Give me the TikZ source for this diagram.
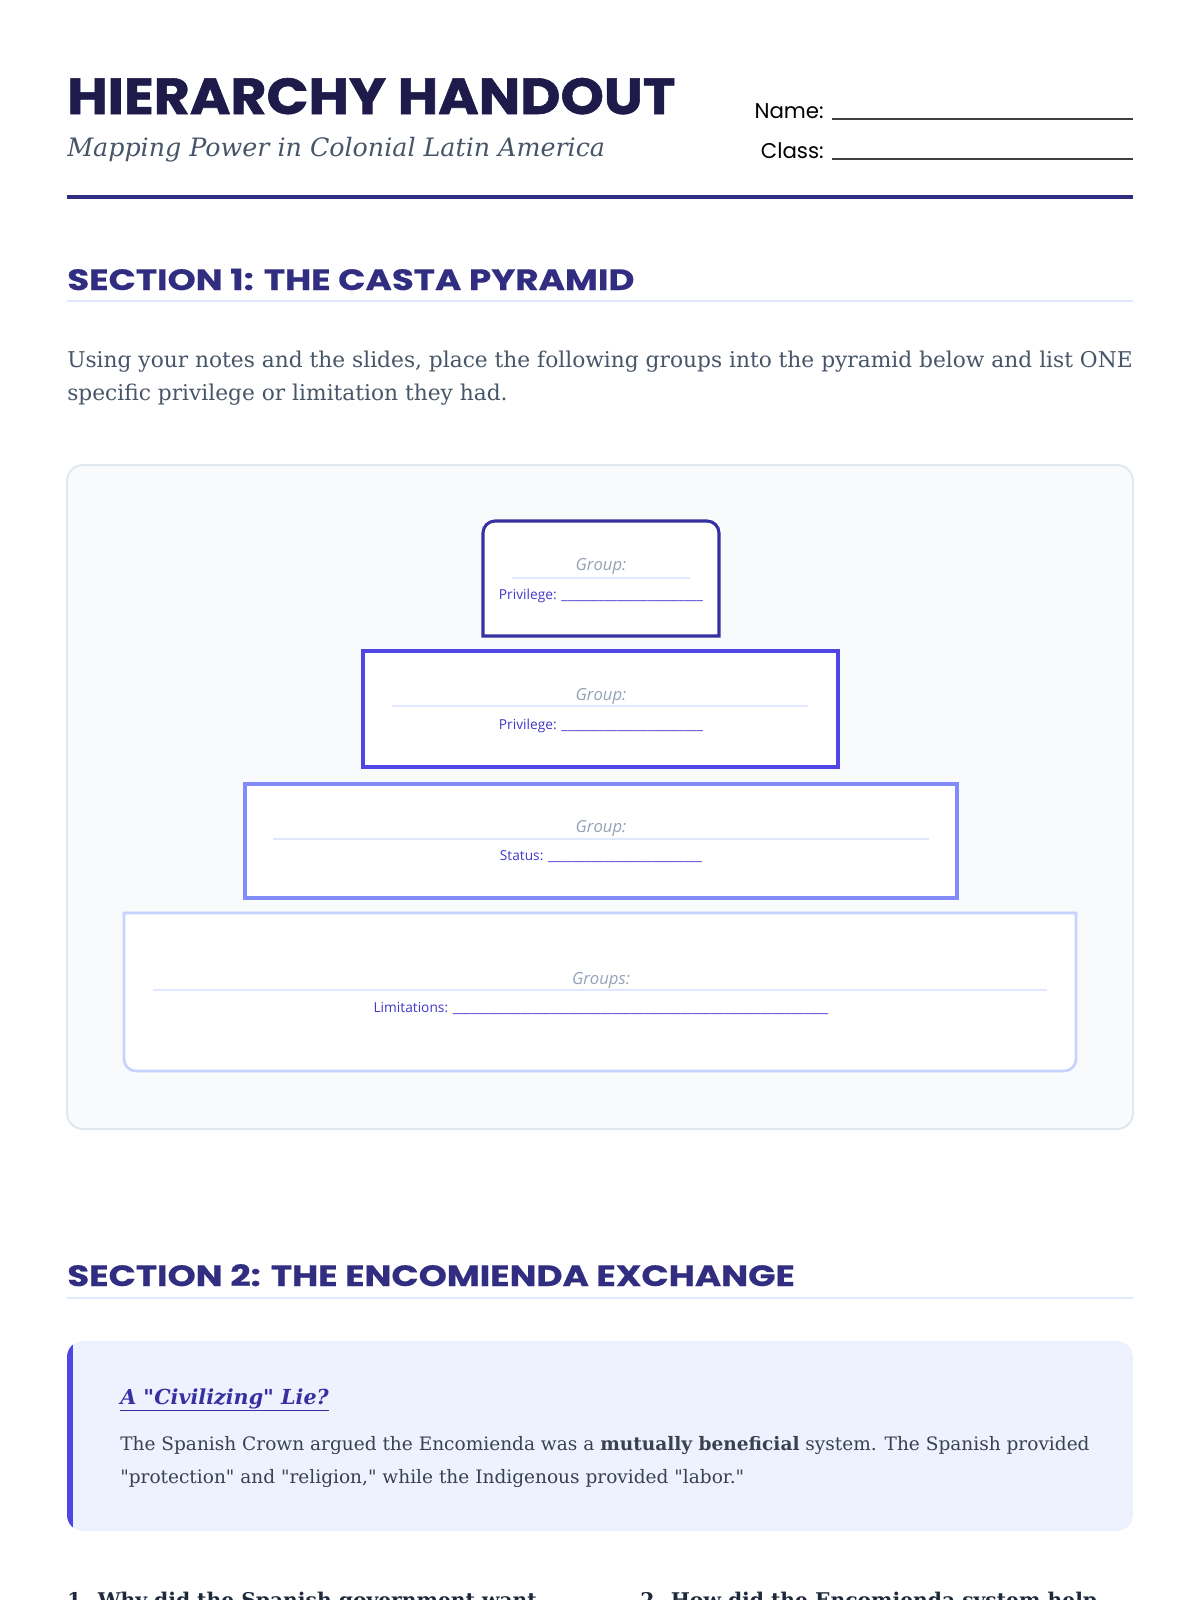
\documentclass[tikz,border=0pt]{standalone}
\usepackage{fontspec}
\setmainfont{DejaVu Serif}
\newfontfamily\headfont{Poppins}
\newfontfamily\titlefont{Poppins}[FakeStretch=1.09, BoldFeatures={FakeBold=1.2}]
\newfontfamily\secfont{Poppins}[FakeStretch=1.22, BoldFeatures={FakeBold=0.5}]
\newfontfamily\labelfont{Open Sans}
\usetikzlibrary{positioning}

\definecolor{inkNavy}{HTML}{1E1B4B}
\definecolor{secIndigo}{HTML}{312E81}
\definecolor{ruleLight}{HTML}{E0E7FF}
\definecolor{slateText}{HTML}{475569}
\definecolor{panelFill}{HTML}{F8FAFC}
\definecolor{panelLine}{HTML}{E2E8F0}
\definecolor{tierA}{HTML}{3730A3}
\definecolor{tierB}{HTML}{4F46E5}
\definecolor{tierC}{HTML}{818CF8}
\definecolor{tierD}{HTML}{C7D2FE}
\definecolor{lblIndigo}{HTML}{4338CA}
\definecolor{hintGray}{HTML}{94A3B8}
\definecolor{calloutFill}{HTML}{EEF2FF}
\definecolor{bodyGray}{HTML}{374151}
\definecolor{qDark}{HTML}{1E293B}

\newcommand\blanks[1]{\foreach\k in {1,...,#1}{\_}}
\newcommand\dq{\textquotedbl}

\tikzset{
  txt/.style={anchor=base west, inner sep=0pt},
  sechead/.style={txt, text=secIndigo, font=\secfont\bfseries\fontsize{22pt}{26pt}\selectfont},
  secrule/.style={ruleLight, line width=2.2pt},
  para/.style={txt, text=slateText, font=\fontsize{16.3pt}{20pt}\selectfont},
  grouptxt/.style={anchor=base, inner sep=0pt, text=hintGray, font=\labelfont\itshape\fontsize{12.5pt}{14pt}\selectfont},
  grouprule/.style={ruleLight, line width=1.1pt},
  filltxt/.style={anchor=base, inner sep=0pt, text=lblIndigo, font=\labelfont\fontsize{10.3pt}{12pt}\selectfont},
  body/.style={txt, text=bodyGray, font=\fontsize{13.9pt}{18pt}\selectfont},
  question/.style={txt, text=qDark, font=\bfseries\fontsize{15.2pt}{18pt}\selectfont},
}

\begin{document}
\begin{tikzpicture}[x=0.75pt, y=-0.75pt]
\useasboundingbox (0,0) rectangle (1200,1600);
\clip (0,0) rectangle (1200,1600);
\fill[white] (0,0) rectangle (1200,1600);

% header
\node[txt, text=inkNavy, font=\titlefont\bfseries\fontsize{38pt}{44pt}\selectfont] (title) at (67,114) {HIERARCHY HANDOUT};
\node[txt, text=slateText, font=\itshape\fontsize{19pt}{22pt}\selectfont] (subtitle) at (67,156) {Mapping Power in Colonial Latin America};
\node[anchor=base east, inner sep=0pt, font=\headfont\fontsize{16pt}{18pt}\selectfont] (name) at (824,118) {Name:};
\node[anchor=base east, inner sep=0pt, font=\headfont\fontsize{16pt}{18pt}\selectfont] (class) at (824,158) {Class:};
\coordinate (nameend) at (1133,119);
\coordinate (classend) at (1133,159);
\draw[black!75, line width=0.9pt] ([xshift=6pt,yshift=-0.8pt]name.base east) -- ([yshift=-0.8pt]name.base east -| nameend);
\draw[black!75, line width=0.9pt] ([xshift=6pt,yshift=-0.8pt]class.base east) -- ([yshift=-0.8pt]class.base east -| classend);
\draw[secIndigo, line width=3.2pt] (67,197) -- (1133,197);

% section 1
\node[sechead] (sec1) at (67,290) {SECTION 1: THE CASTA PYRAMID};
\draw[secrule] (67,301) -- (1133,301);
\node[para] (intro1) at (67,367) {Using your notes and the slides, place the following groups into the pyramid below and list ONE};
\node[para] (intro2) at (67,400) {specific privilege or limitation they had.};

% pyramid panel
\draw[fill=panelFill, draw=panelLine, line width=1.5pt, rounded corners=12pt] (67,465) rectangle (1133,1129);

% tier 1 (top corners rounded)
\draw[fill=white, draw=tierA, line width=2.3pt] (483,636) -- (483,533) arc (180:270:12) -- (707,521) arc (270:360:12) -- (719,636) -- cycle;
\node[grouptxt] (g1) at (601,570) {Group:};
\draw[grouprule] (512,578) -- (690,578);
\node[filltxt] (p1) at (601,599) {Privilege: \blanks{23}};

% tier 2
\draw[fill=white, draw=tierB, line width=2.3pt] (363,651) rectangle (838,767);
\node[grouptxt] (g2) at (601,700) {Group:};
\draw[grouprule] (392,706) -- (808,706);
\node[filltxt] (p2) at (601,729) {Privilege: \blanks{23}};

% tier 3
\draw[fill=white, draw=tierC, line width=2.3pt] (245,784) rectangle (957,898);
\node[grouptxt] (g3) at (601,832) {Group:};
\draw[grouprule] (273,839) -- (929,839);
\node[filltxt] (p3) at (601,860) {Status: \blanks{25}};

% tier 4 (bottom corners rounded)
\draw[fill=white, draw=tierD, line width=2pt] (124,913) -- (1076,913) -- (1076,1059) arc (0:90:12) -- (136,1071) arc (90:180:12) -- cycle;
\node[grouptxt] (g4) at (601,984) {Groups:};
\draw[grouprule] (153,990) -- (1047,990);
\node[filltxt] (p4) at (601,1012) {Limitations: \blanks{61}};

% section 2
\node[sechead] (sec2) at (67,1286) {SECTION 2: THE ENCOMIENDA EXCHANGE};
\draw[secrule] (67,1298) -- (1133,1298);

% callout
\begin{scope}
\path[clip, rounded corners=12pt] (67,1341) rectangle (1133,1531);
\fill[calloutFill] (67,1341) rectangle (1133,1531);
\fill[tierB] (67,1341) rectangle (73,1531);
\end{scope}
\node[txt, text=tierA, font=\bfseries\itshape\fontsize{15.5pt}{20pt}\selectfont] (lie) at (120,1404) {\underline{A \dq Civilizing\dq{} Lie?}};
\node[body] (claim1) at (120,1450) {The Spanish Crown argued the Encomienda was a \textbf{mutually beneficial} system. The Spanish provided};
\node[body] (claim2) at (120,1483) {\dq protection\dq{} and \dq religion,\dq{} while the Indigenous provided \dq labor.\dq};

% questions (cut by page edge)
\node[question] (q1) at (67,1607) {1. Why did the Spanish government want};
\node[question] (q2) at (640,1607) {2. How did the Encomienda system help};
\end{tikzpicture}
\end{document}
